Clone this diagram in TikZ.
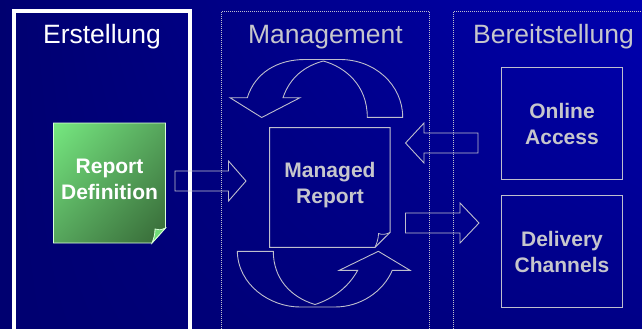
\documentclass[tikz,border=0pt]{standalone}
\usepackage{fontspec}
\usetikzlibrary{shadings}
\setmainfont{Liberation Sans}
\definecolor{bgUL}{RGB}{0,0,112}
\definecolor{bgUR}{RGB}{0,0,176}
\definecolor{bgLL}{RGB}{0,0,112}
\definecolor{bgLR}{RGB}{0,0,135}
\definecolor{grA}{RGB}{118,232,128}
\definecolor{grB}{RGB}{86,165,92}
\definecolor{grC}{RGB}{54,104,54}
\definecolor{greyT}{RGB}{198,198,204}
\definecolor{lineC}{RGB}{190,190,205}
\tikzset{
  x=1pt,y=-1pt,
  colhead/.style={font=\fontsize{26.5}{30}\selectfont,text=greyT,anchor=base,inner sep=0pt},
  boxlabel/.style={font=\fontsize{21}{26}\selectfont\bfseries,text=greyT,align=center,inner sep=0pt},
  colframe/.style={draw=lineC,dash pattern=on 1pt off 1pt,line width=0.8pt},
  outl/.style={draw=lineC,line width=0.9pt,line join=miter},
  sbox/.style={draw=lineC,line width=1pt,rectangle,inner sep=0pt,minimum width=121pt,minimum height=112pt,anchor=north west},
}
\begin{document}
\begin{tikzpicture}
\useasboundingbox (0,0) rectangle (642,329);
\shade[upper left=bgUL,upper right=bgUR,lower left=bgLL,lower right=bgLR] (0,0) rectangle (642,329);
% column frames
\draw[draw=white,line width=3.6pt] (14,329) -- (14,11.3) -- (190,11.3) -- (190,329);
\draw[colframe] (221.5,329) -- (221.5,11.5) -- (429.5,11.5) -- (429.5,329);
\draw[colframe] (453.5,329) -- (453.5,11.5) -- (642,11.5);
\node[colhead,text=white] (h1) at (102,43.5) {Erstellung};
\node[colhead] (h2) at (325.5,43.5) {Management};
\node[colhead] (h3) at (553.5,43.5) {Bereitstellung};
% green note
\shade[upper left=grA,upper right=grB,lower left=grB,lower right=grC]
  (53.5,123) -- (165.5,123) -- (165.5,228) -- (152,243) -- (53.5,243) -- cycle;
\draw[draw=white!85!green,line width=0.9pt]
  (53.5,123) -- (165.5,123) -- (165.5,228) -- (152,243) -- (53.5,243) -- cycle;
\draw[draw=white!85!green,fill=grA!80!grB,line width=0.8pt]
  (165.5,228) .. controls (161,230) and (158,230.5) .. (155,229) .. controls (155,234) and (154,238) .. (152,243) -- cycle;
\node[boxlabel,text=white] (rd) at (109.5,179.2) {Report\\Definition};
% managed report
\draw[outl,line width=1pt] (269.5,127.5) -- (390,127.5) -- (390,232.5) -- (375,247.3) -- (269.5,247.3) -- cycle;
\draw[outl,line width=0.8pt]
  (390,232.5) .. controls (386,234.5) and (382,235) .. (378.5,233.5) .. controls (378.5,238) and (377,243) .. (375,247.3);
\node[boxlabel] (mr) at (330,185.3) {Managed\\Report};
% right boxes
\node[sbox] (oa) at (501,67) {};
\node[sbox] (dc) at (501,195) {};
\node[boxlabel] at (562,124.2) (oat) {Online\\Access};
\node[boxlabel] at (562,252) (dct) {Delivery\\Channels};
% block arrows
\draw[outl] (175,171) -- (228.5,171) -- (228.5,161) -- (246,181) -- (228.5,201) -- (228.5,191) -- (175,191) -- cycle;
\draw[outl] (478,133) -- (424,133) -- (424,123) -- (405.5,143) -- (424,163) -- (424,153) -- (478,153) -- cycle;
\draw[outl] (405.5,213) -- (460,213) -- (460,203) -- (479,223) -- (460,243) -- (460,233) -- (405.5,233) -- cycle;
% curved arrows
\draw[outl] (402.7,117.3) .. controls (402.7,85) and (375,59.5) .. (340,59.5) -- (305,59.5)
  .. controls (277,59.5) and (255,73) .. (247.3,97.7) -- (230,97.7) -- (261.7,117.5) -- (300,97.7) -- (283,97.7)
  .. controls (290,77) and (305,66) .. (323.3,61) .. controls (345,67) and (367.3,85) .. (367.3,117.3) -- cycle;
\draw[outl] (237.3,251.3) .. controls (238,285) and (270,307) .. (300,307) -- (335,307)
  .. controls (360,307) and (383,292) .. (392.3,270.3) -- (410,270.3) -- (378.3,251.3) -- (339.3,270.3) -- (357.7,270.3)
  .. controls (348,288) and (332,299) .. (315,304.5) .. controls (290,297) and (273.3,278) .. (273.3,251.3) -- cycle;
\end{tikzpicture}
\end{document}
